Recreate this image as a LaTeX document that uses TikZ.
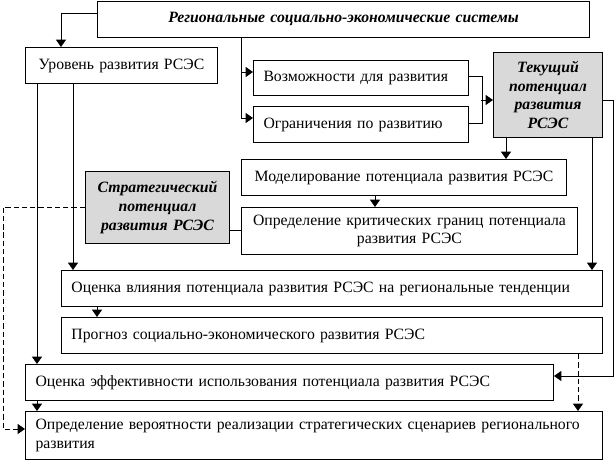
\documentclass[tikz,border=0pt]{standalone}
\usepackage{fontspec}
\setmainfont{Liberation Serif}
\usetikzlibrary{arrows.meta,calc}
\definecolor{boxgray}{RGB}{217,217,217}
\tikzset{
  bx/.style={draw, line width=0.75pt, anchor=north west, inner xsep=7.5pt, inner ysep=0pt,
             font=\fontsize{11.8pt}{14pt}\selectfont},
  lft/.style={bx, align=left},
  ctr/.style={bx, align=center},
  hl/.style={ctr, fill=boxgray, font=\fontsize{11.8pt}{14pt}\selectfont\bfseries\itshape},
  ln/.style={line width=0.75pt},
  arr/.style={ln, -{Triangle[length=5.5pt,width=7.5pt]}},
  dsh/.style={arr, dash pattern=on 4pt off 2.2pt}
}
\begin{document}
\begin{tikzpicture}[x=0.75pt,y=-0.75pt]
\useasboundingbox (0,0) rectangle (615,462);
% boxes
\node[ctr, text width=354pt, minimum height=27pt, font=\fontsize{11.8pt}{14pt}\selectfont\bfseries\itshape] (top) at (97,0.5) {Региональные социально-экономические системы};
\node[ctr, text width=129pt, minimum height=27pt] (lvl) at (25,47) {Уровень развития РСЭС};
\node[lft, text width=146.25pt, minimum height=26.25pt] (voz) at (253,60) {Возможности для развития};
\node[lft, text width=146.25pt, minimum height=27pt] (ogr) at (253,106) {Ограничения по развитию};
\node[hl, text width=66.75pt, minimum height=63.75pt] (tek) at (493,52) {Текущий\\потенциал\\развития\\РСЭС};
\node[ctr, text width=228.75pt, minimum height=27pt] (mod) at (241,159) {Моделирование потенциала развития РСЭС};
\node[ctr, inner xsep=3pt, text width=246pt, minimum height=35.25pt] (krit) at (241,207) {Определение критических границ потенциала\\развития РСЭС};
\node[hl, text width=93pt, minimum height=54pt] (strat) at (85,171) {Стратегический\\потенциал\\развития РСЭС};
\node[lft, text width=390.75pt, minimum height=27pt] (vliy) at (61,270) {Оценка влияния потенциала развития РСЭС на региональные тенденции};
\node[lft, text width=390.75pt, minimum height=27pt] (prog) at (61,317) {Прогноз социально-экономического развития РСЭС};
\node[lft, text width=381pt, minimum height=27pt] (eff) at (25,364) {Оценка эффективности использования потенциала развития РСЭС};
\node[lft, text width=417.75pt, minimum height=36pt] (ver) at (25,411) {Определение вероятности реализации стратегических сценариев регионального\\развития};
% connectors
\draw[arr] ($(top.north west)+(0,13)$) -| ($(lvl.north west)+(36,0)$);
\draw[arr] ($(top.south west)+(144,0)$) |- ($(ogr.north west)+(0,12)$);
\draw[arr] ($(voz.north west)+(-12,12)$) -- ($(voz.north west)+(0,12)$);
\draw[ln] ($(voz.north east)+(0,16)$) -- ++(13,0) |- ($(ogr.north east)+(0,17)$);
\draw[arr] ($(tek.north west)+(-12,48)$) -- ($(tek.north west)+(0,48)$);
\draw[arr] ($(tek.south west)+(13,0)$) -- ($(mod.north west)+(265,0)$);
\draw[arr] ($(tek.north east)+(0,48)$) -- ++(10,0) |- ($(eff.north east)+(0,12)$);
\draw[arr] ($(tek.south east)+(-11,0)$) -- ($(vliy.north east)+(-11,0)$);
\draw[arr] ($(mod.south west)+(134,0)$) -- ($(krit.north west)+(134,0)$);
\draw[ln] ($(strat.north east)+(0,59)$) -- ($(krit.north west)+(0,23)$);
\draw[dsh] ($(strat.north west)+(0,36)$) -- ++(-82,0) |- ($(ver.north west)+(0,18)$);
\draw[arr] ($(lvl.south west)+(48,0)$) -- ($(vliy.north west)+(12,0)$);
\draw[arr] ($(lvl.south west)+(12,0)$) -- ($(eff.north west)+(12,0)$);
\draw[arr] ($(vliy.south west)+(36,0)$) -- ($(prog.north west)+(36,0)$);
\draw[arr] ($(eff.south west)+(12,0)$) -- ($(ver.north west)+(12,0)$);
\draw[dsh] ($(prog.south west)+(517,0)$) -- ($(ver.north west)+(553,0)$);
\end{tikzpicture}
\end{document}
